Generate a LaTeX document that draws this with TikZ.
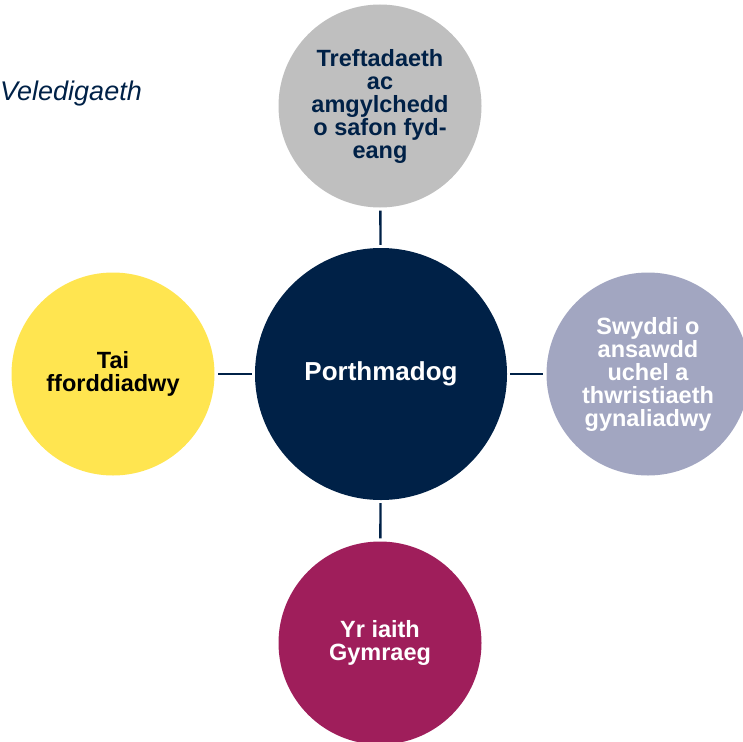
\documentclass[tikz,border=0pt]{standalone}
\usepackage{fontspec}
\setmainfont{Liberation Sans}
\definecolor{navy}{RGB}{0,33,71}
\definecolor{stone}{RGB}{191,191,191}
\definecolor{lilac}{RGB}{162,166,193}
\definecolor{sun}{RGB}{255,229,80}
\definecolor{berry}{RGB}{159,30,91}

\begin{document}
\begin{tikzpicture}[
  x=1pt,y=-1pt,
  hub/.style={circle,minimum size=252pt,inner sep=0pt,fill=navy,text=white,font=\bfseries\fontsize{26}{28}\selectfont},
  theme/.style={circle,minimum size=203pt,inner sep=0pt,align=center,font=\bfseries\fontsize{23.5}{23}\selectfont},
  link/.style={draw=navy,line width=2.4pt,shorten <=3pt,shorten >=3pt}
]
  \clip (0,0) rectangle (743,741);
  \node[anchor=base west,inner sep=1pt,text=navy,font=\itshape\fontsize{27}{30}\selectfont] (vision) at (-1,100) {Veledigaeth};
  \node[hub] (port) at (381,374) {Porthmadog};
  \node[theme,fill=stone,text=navy] (heritage) at (380,106) {Treftadaeth\\ac\\amgylchedd\\o safon fyd-\\eang};
  \node[theme,fill=sun,text=black] (homes) at (113,374) {Tai\\fforddiadwy};
  \node[theme,fill=lilac,text=white] (jobs) at (648,374) {Swyddi o\\ansawdd\\uchel a\\thwristiaeth\\gynaliadwy};
  \node[theme,fill=berry,text=white] (lang) at (380,643) {Yr iaith\\Gymraeg};
  \draw[link] (port) -- (heritage);
  \draw[link] (port) -- (homes);
  \draw[link] (port) -- (jobs);
  \draw[link] (port) -- (lang);
\end{tikzpicture}
\end{document}
